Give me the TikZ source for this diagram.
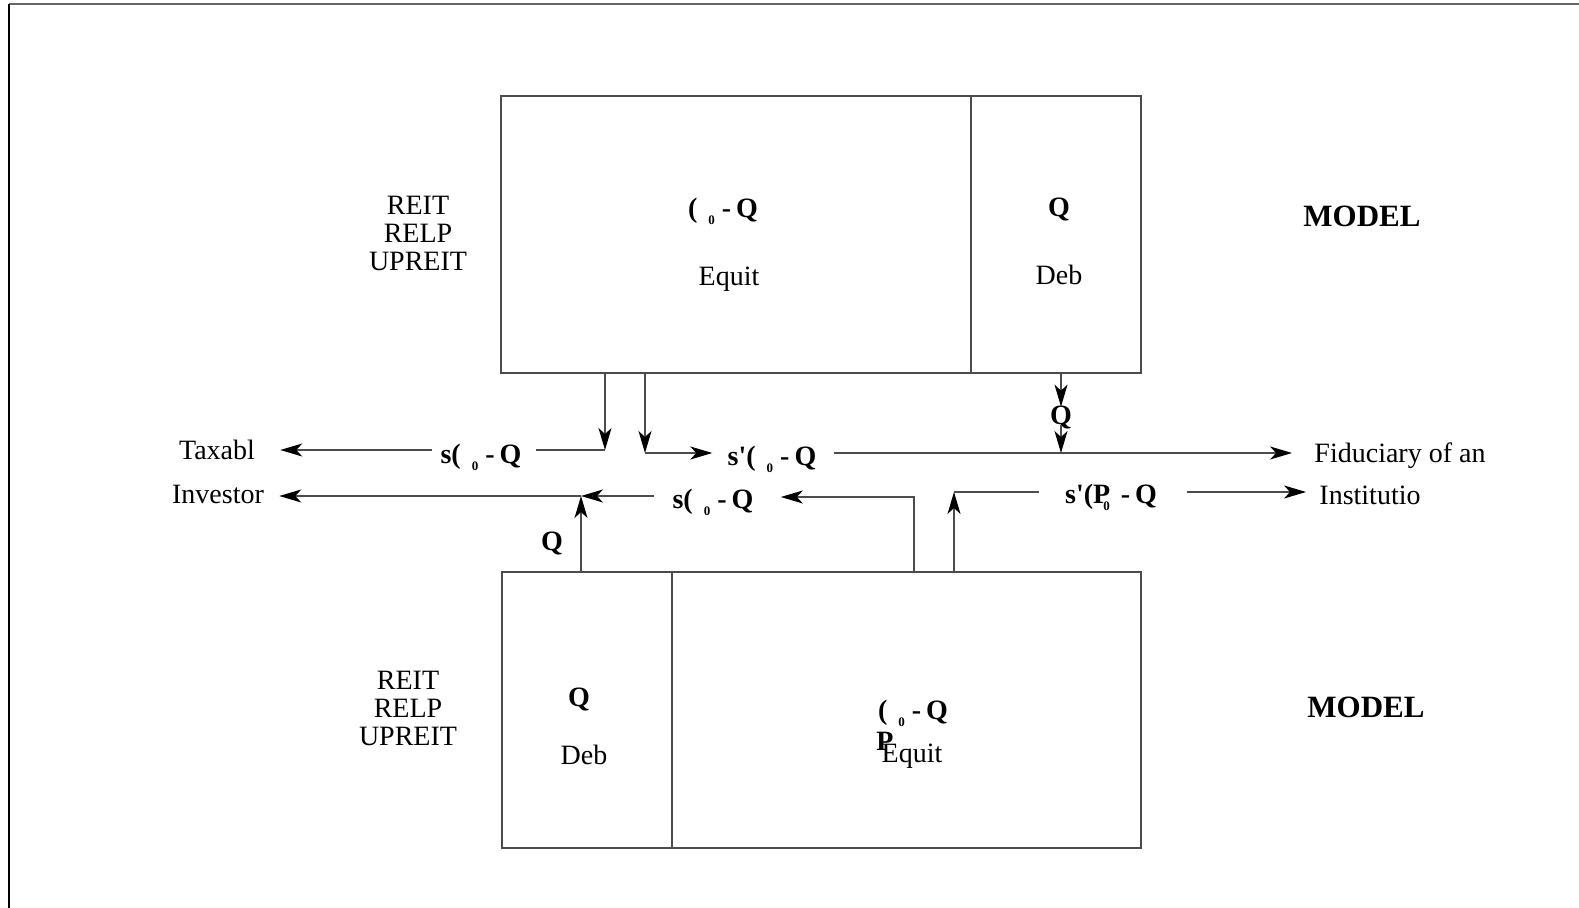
\documentclass[tikz,border=0pt]{standalone}
\usepackage{fontspec}
\setmainfont{Liberation Serif}
\usepackage{tikz}
\usetikzlibrary{arrows.meta,positioning,calc}
\tikzset{
  box/.style={draw=black!70, line width=0.7pt, inner sep=0pt},
  txt/.style={font=\fontsize{14}{14}\selectfont, inner sep=0pt, align=center},
  lab/.style={font=\fontsize{14}{14}\selectfont\bfseries, inner sep=0pt, text height=9pt, text depth=0pt},
  big/.style={font=\fontsize{15.5}{15.5}\selectfont\bfseries, inner sep=0pt},
  line/.style={draw=black!70, line width=0.7pt},
  arrow/.style={line, -{Stealth[length=11pt,width=6.5pt,inset=3pt,color=black]}},
}
\newcommand{\lo}{\raisebox{-3.5pt}{\fontsize{6.5}{6.5}\selectfont\bfseries 0}}
\newcommand{\sq}[1]{#1\hspace{5.5pt}\lo\hspace{3.5pt}-\hspace{2.5pt}Q}

\begin{document}
\begin{tikzpicture}[x=0.5pt,y=-0.5pt]
\useasboundingbox (0,0) rectangle (1579,908);
% frame
\draw[black!60, line width=1.1pt] (9,4) -- (1579,4);
\draw[line width=1pt] (9,4) -- (9,908);

% upper model
\node[box, minimum width=235pt, minimum height=138.5pt] (teq) at (736,234.5) {};
\node[box, minimum width=85pt, minimum height=138.5pt] (tdb) at (1056,234.5) {};
\node[lab] (teqv) at (723,209) {\sq{(}};
\node[txt] (teqn) at (729,279) {Equit};
\node[lab] (tdbv) at (1059,208) {Q};
\node[txt] (tdbn) at (1059,275) {Deb};
\node[txt] (ttype) at (418,233) {REIT\\RELP\\UPREIT};
\node[big] (tmodel) at (1362,216) {MODEL};

% lower model
\node[box, minimum width=85pt, minimum height=138pt] (bdb) at (587,710) {};
\node[box, minimum width=234.5pt, minimum height=138pt] (beq) at (906.5,710) {};
\node[lab] (bdbv) at (579,697) {Q};
\node[txt] (bdbn) at (584,755) {Deb};
\node[lab] (beqv) at (913,710) {\sq{(}};
\node[lab] (beqp) at (885,741) {P};
\node[txt] (beqn) at (912,756) {Equit};
\node[txt] (btype) at (408,708) {REIT\\RELP\\UPREIT};
\node[big] (bmodel) at (1366,707) {MODEL};

% investors
\node[txt] (tax) at (217,450) {Taxabl};
\node[txt] (inv) at (218,494) {Investor};
\node[txt] (fid) at (1400,456) {Fiduciary of an};
\node[txt] (ins) at (1370,495) {Institutio};

% flow labels
\node[lab] (l1) at (481,455) {\sq{s(}};
\node[lab] (l2) at (772,457) {\sq{s\textquotesingle(}};
\node[lab] (l3) at (713,500) {\sq{s(}};
\node[lab] (l4) at (1111,495) {s\textquotesingle(P\kern-3.5pt\lo\hspace{5.5pt}-\hspace{2.5pt}Q};
\node[lab] (qt) at (1061,416) {Q};
\node[lab] (qb) at (552,542) {Q};

\coordinate (c1) at (605,450);
\coordinate (c2) at (645,453);
\coordinate (c3) at (581,496);
\coordinate (c4) at (914,497);
\coordinate (c5) at (954,492);

% upper flows
\draw[arrow] (teq.south -| c1) -- (c1);
\draw[line] (c1) -- ([xshift=7pt]c1 -| l1.east);
\draw[arrow] ([xshift=-4pt]l1.west |- c1) -- ([xshift=12.5pt]c1 -| tax.east);
\draw[arrow] (teq.south -| c2) -- (c2);
\draw[arrow] (c2) -- ([xshift=-7.5pt]c2 -| l2.west);
\draw[arrow] ([xshift=8.5pt]c2 -| l2.east) -- ([xshift=-11pt]c2 -| fid.west);
\draw[arrow] (tdb.south -| qt) -- (qt.north);
\draw[arrow] (qt.south) -- (qt |- c2);

% lower flows
\draw[arrow] (bdb.north -| c3) -- (c3);
\draw[arrow] ([xshift=-9pt]c3 -| l3.west) -- (c3);
\draw[arrow] (c3) -- ([xshift=7.5pt]c3 -| inv.east);
\draw[arrow] (beq.north -| c4) -- (c4) -- ([xshift=13.5pt]c4 -| l3.east);
\draw[arrow] (beq.north -| c5) -- (c5);
\draw[line] (c5) -- ([xshift=-13pt]c5 -| l4.west);
\draw[arrow] ([xshift=15pt]c5 -| l4.east) -- ([xshift=-6.5pt]c5 -| ins.west);
\end{tikzpicture}
\end{document}
